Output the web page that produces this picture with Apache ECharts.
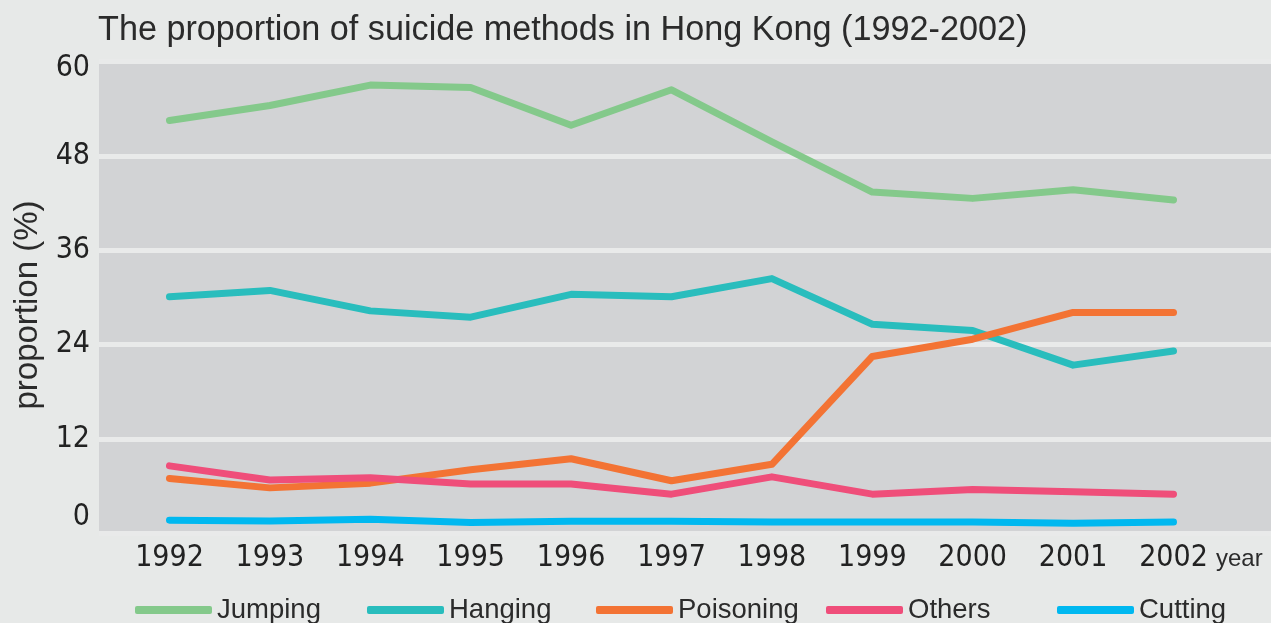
<!DOCTYPE html>
<html>
<head>
<meta charset="utf-8">
<script src="https://cdn.jsdelivr.net/npm/echarts@6/dist/echarts.min.js"></script>
<style>
html,body{margin:0;padding:0;background:#e7e9e8;}
#c{width:1271px;height:623px;}
</style>
</head>
<body>
<div id="c"></div>
<script>
var years = [1992, 1993, 1994, 1995, 1996, 1997, 1998, 1999, 2000, 2001, 2002];
var jumping   = [52.5, 54.4, 57.0, 56.7, 51.9, 56.4, 49.8, 43.4, 42.6, 43.7, 42.4];
var hanging   = [30.1, 30.9, 28.3, 27.5, 30.4, 30.1, 32.4, 26.6, 25.8, 21.4, 23.2];
var poisoning = [7.0, 5.8, 6.4, 8.1, 9.5, 6.7, 8.8, 22.5, 24.7, 28.1, 28.1];
var others    = [8.6, 6.8, 7.1, 6.3, 6.3, 5.0, 7.2, 5.0, 5.6, 5.3, 5.0];
var cutting   = [1.7, 1.6, 1.8, 1.4, 1.55, 1.55, 1.45, 1.45, 1.45, 1.3, 1.45];
var yTicks = [0, 12, 24, 36, 48, 60];
var seriesNames = ['Jumping', 'Hanging', 'Poisoning', 'Others', 'Cutting'];
var seriesValues = [jumping, hanging, poisoning, others, cutting];
var colors = ['#84c98b', '#29bdbd', '#f37334', '#ef4e7a', '#00b8f0'];

var lightFont = 'Liberation Sans';
var numFont = 'DejaVu Sans Condensed';
var legendLefts = [135, 367, 596, 826, 1057];

var chart = echarts.init(document.getElementById('c'));
chart.setOption({
  backgroundColor: '#e7e9e8',
  animation: false,
  color: colors,
  title: {
    text: 'The proportion of suicide methods in Hong Kong (1992-2002)',
    left: 93, top: 9,
    textStyle: {fontFamily: lightFont, fontWeight: 'normal', fontSize: 34.2, color: '#2b2b2b'}
  },
  legend: seriesNames.map(function (n, k) {
    return {
      left: legendLefts[k], top: 596, padding: 0,
      itemWidth: 77, itemHeight: 8, itemGap: 0,
      icon: 'roundRect',
      data: [n],
      textStyle: {fontFamily: lightFont, fontSize: 27.5, color: '#2b2b2b'}
    };
  }),
  grid: {
    left: 99, right: 0, top: 61.5, bottom: 89.5,
    show: true, backgroundColor: '#d2d3d5', borderWidth: 0
  },
  xAxis: {
    type: 'value',
    min: 1991.298, max: 2002.971,
    axisLine: {show: false}, axisTick: {show: false}, splitLine: {show: false},
    axisLabel: {
      customValues: years,
      margin: 10,
      fontFamily: numFont, fontSize: 30, color: '#222',
      formatter: function (v) { return String(v); }
    }
  },
  yAxis: {
    type: 'value',
    min: 0, max: 60, interval: 12,
    name: 'proportion (%)',
    nameLocation: 'middle', nameGap: 52,
    nameTextStyle: {fontFamily: lightFont, fontSize: 33, color: '#2b2b2b', padding: [0, 15, 0, 0]},
    axisLine: {show: false}, axisTick: {show: false},
    splitLine: {lineStyle: {color: '#e9eaea', width: 5}},
    axisLabel: {
      margin: 9,
      fontFamily: numFont, fontSize: 30, color: '#222',
      formatter: function (v) {
        if (v === 0) return '{lo|0}';
        if (v === 60) return '{hi|60}';
        return String(v);
      },
      rich: {
        lo: {fontFamily: numFont, fontSize: 30, color: '#222', padding: [0, 0, 33, 0]},
        hi: {fontFamily: numFont, fontSize: 30, color: '#222', padding: [13, 0, 0, 0]}
      }
    }
  },
  graphic: [{
    type: 'text', left: 1216, top: 547,
    style: {text: 'year', fontFamily: lightFont, fontSize: 24, fill: '#2b2b2b'}
  }],
  series: seriesNames.map(function (n, k) {
    return {
      name: n, type: 'line', symbol: 'none',
      lineStyle: {width: 7, cap: 'round', join: 'round', color: colors[k]},
      itemStyle: {color: colors[k]},
      data: years.map(function (y, i) { return [y, seriesValues[k][i]]; })
    };
  })
});
</script>
</body>
</html>
